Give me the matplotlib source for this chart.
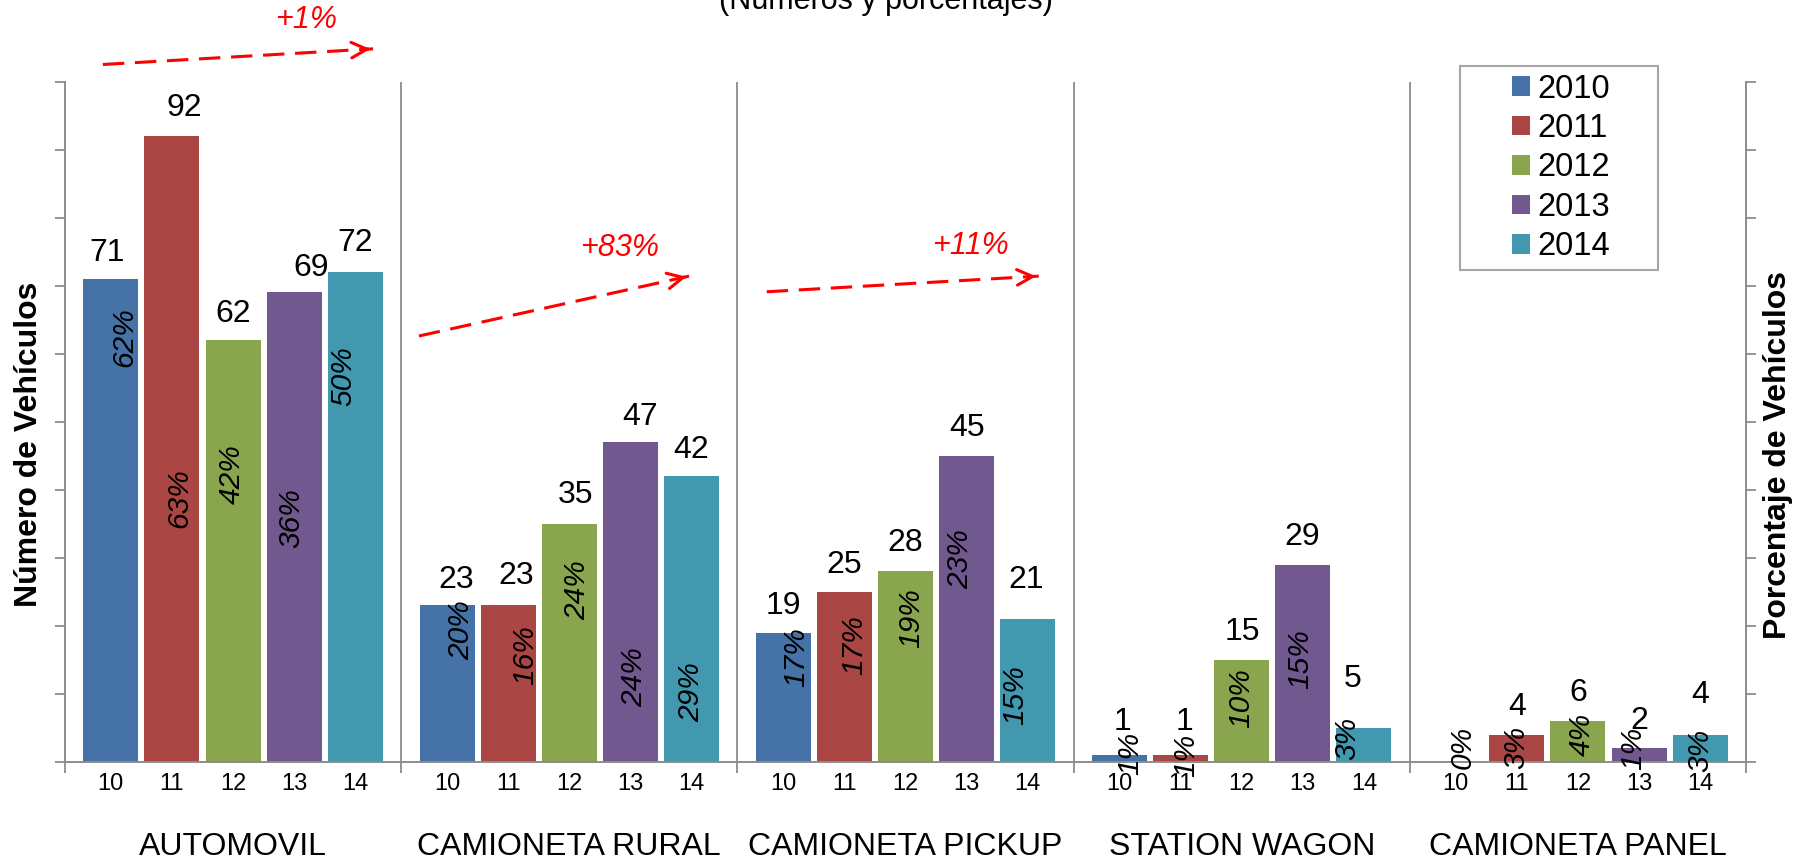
import matplotlib
matplotlib.use("Agg")
import matplotlib.pyplot as plt
from matplotlib.patches import Rectangle

plt.rcParams["font.family"] = ["Liberation Sans", "DejaVu Sans"]

# ---- data -------------------------------------------------------------
GROUPS = ["AUTOMOVIL", "CAMIONETA RURAL", "CAMIONETA PICKUP", "STATION WAGON", "CAMIONETA PANEL"]
YEARS = ["2010", "2011", "2012", "2013", "2014"]
YEAR_TICKS = ["10", "11", "12", "13", "14"]

automovil = [71, 92, 62, 69, 72]
rural = [23, 23, 35, 47, 42]
pickup = [19, 25, 28, 45, 21]
wagon = [1, 1, 15, 29, 5]
panel = [0, 4, 6, 2, 4]

automovil_pct = [62, 63, 42, 36, 50]
rural_pct = [20, 16, 24, 24, 29]
pickup_pct = [17, 17, 19, 23, 15]
wagon_pct = [1, 1, 10, 15, 3]
panel_pct = [0, 3, 4, 1, 3]

TRENDS = ["+1%", "+83%", "+11%"]  # 2010 -> 2014 change, first three groups

COUNTS = [automovil, rural, pickup, wagon, panel]
PCTS = [automovil_pct, rural_pct, pickup_pct, wagon_pct, panel_pct]

# ---- layout / style ---------------------------------------------------
COLORS = ["#4572A7", "#AA4643", "#89A54E", "#71588F", "#4198AF"]
GRAY = "#8C8C8C"
GROUP_W = 5.5
BAR_W = 0.9

# where the share labels sit (y in data units, x nudge in pixels)
PCT_Y = [[62.4, 38.8, 42.3, 35.8, 56.7],
         [19.4, 15.7, 25.3, 12.5, 10.3],
         [15.4, 17.2, 21.1, 29.8, 9.8],
         [1.3, 1.0, 9.4, 15.1, 3.4],
         [2.2, 2.2, 4.1, 2.0, 1.7]]
PCT_DX = [[13.5, 7.5, -1.5, -2.5, -12.5],
          [14, 17.5, 8, 4, 0],
          [12.8, 10, 5.5, -6, -13],
          [10.5, 5.5, 0, -2.5, -17],
          [7.5, 0, 4, -5.5, 0]]
# count label nudges in pixels (x, height above bar top)
NUM_DX = [[-4, 12.5, 0.5, 17, 0],
          [9.5, 8.5, 6.5, 10, 0],
          [0, 0, 0, 0, -2],
          [3, 3.5, 1, -1, -11],
          [0, 0, 0, 0, 0]]
NUM_DY = [[26, 28, 26, 24, 29],
          [25, 29, 28.5, 25, 26],
          [27, 27, 28, 28, 39],
          [33, 33, 28, 28, 49],
          [28, 28, 28, 27, 40]]
# trend arrows: start, end, label position (data coords)
ARROWS = [((0.62, 102.5), (5.04, 104.8), (3.94, 109.0)),
          ((5.79, 62.6), (10.21, 71.4), (9.08, 75.6)),
          ((11.48, 69.1), (15.93, 71.4), (14.82, 75.8))]


def bar_x(g, j):
    return g * GROUP_W + 0.75 + j


fig = plt.figure(figsize=(18, 8.65), dpi=100, facecolor="white")
ax = fig.add_axes((65 / 1800, 103 / 865, 1681 / 1800, 680.5 / 865))
ax.set_xlim(0, GROUP_W * len(GROUPS))
ax.set_ylim(0, 100)

for j, year in enumerate(YEARS):
    xs = [bar_x(g, j) for g in range(len(GROUPS))]
    hs = [COUNTS[g][j] for g in range(len(GROUPS))]
    ax.bar(xs, hs, width=BAR_W, color=COLORS[j], label=year, zorder=2)

for g in range(len(GROUPS)):
    for j in range(len(YEARS)):
        v = COUNTS[g][j]
        x = bar_x(g, j)
        if v > 0:
            ax.annotate(f"{v}", xy=(x, v), xytext=(NUM_DX[g][j], NUM_DY[g][j]),
                        textcoords="offset pixels", ha="center", va="center",
                        fontsize=23, color="black", zorder=4)
        ax.annotate(f"{PCTS[g][j]}%", xy=(x, PCT_Y[g][j]), xytext=(PCT_DX[g][j], 0),
                    textcoords="offset pixels", ha="center", va="center",
                    rotation=90, fontsize=21.5, style="italic", color="black", zorder=4)

# group separators
for g in range(1, len(GROUPS)):
    ax.axvline(g * GROUP_W, color=GRAY, lw=1.3, zorder=1)

# trend arrows
for (start, end, lab), txt in zip(ARROWS, TRENDS):
    ax.plot([start[0], end[0]], [start[1], end[1]], color="red", lw=2.2,
            dashes=(7, 3.5), clip_on=False, zorder=5)
    near = (end[0] - 0.03 * (end[0] - start[0]), end[1] - 0.03 * (end[1] - start[1]))
    ax.annotate("", xy=end, xytext=near, annotation_clip=False,
                arrowprops=dict(arrowstyle="->", color="red", lw=2.2, mutation_scale=28))
    ax.text(lab[0], lab[1], txt, color="red", fontsize=22, style="italic",
            ha="center", va="center", clip_on=False)

# axes styling
for side in ("left", "right", "bottom"):
    ax.spines[side].set_color(GRAY)
    ax.spines[side].set_linewidth(1.4)
ax.spines["top"].set_visible(False)

ax.set_yticks(range(0, 101, 10))
ax.tick_params(axis="y", which="major", left=True, right=True, labelleft=False,
               direction="out", length=7, width=1.3, color=GRAY)
ax.set_xticks([g * GROUP_W for g in range(len(GROUPS) + 1)])
ax.set_xticks([bar_x(g, j) for g in range(len(GROUPS)) for j in range(len(YEARS))], minor=True)
ax.set_xticklabels([])
ax.set_xticklabels(YEAR_TICKS * len(GROUPS), minor=True)
ax.tick_params(axis="x", which="major", direction="out", length=8, width=1.3, color=GRAY)
ax.tick_params(axis="x", which="minor", length=0, pad=8, labelsize=17)

for g, name in enumerate(GROUPS):
    ax.text((g + 0.5) * GROUP_W, -0.125, name, transform=ax.get_xaxis_transform(),
            ha="center", va="center", fontsize=23)

fig.text(29.5 / 1800, 1 - 444 / 865, "Número de Vehículos", rotation=90, ha="center",
         va="center", fontsize=23, fontweight="bold")
fig.text(1778 / 1800, 1 - 455 / 865, "Porcentaje de Vehículos", rotation=90, ha="center",
         va="center", fontsize=23, fontweight="bold")
fig.text(886 / 1800, 1 - 9 / 865, "(Números y porcentajes)", ha="center", va="baseline",
         fontsize=22)

# legend with a hand-drawn box (wide side padding)
ax.add_patch(Rectangle((1460 / 1800, 1 - 270 / 865), 198 / 1800, 204 / 865,
                       transform=fig.transFigure, facecolor="white",
                       edgecolor="#A6A6A6", lw=1.5, zorder=5, clip_on=False))
leg = ax.legend(loc="center", bbox_to_anchor=(1561 / 1800, 1 - 168 / 865),
                bbox_transform=fig.transFigure, frameon=False, fontsize=23.5,
                handlelength=0.55, handleheight=0.55, handletextpad=0.25,
                labelspacing=0.26, borderpad=0)
leg.set_zorder(6)

fig.savefig("out.png", dpi=100, facecolor="white")
